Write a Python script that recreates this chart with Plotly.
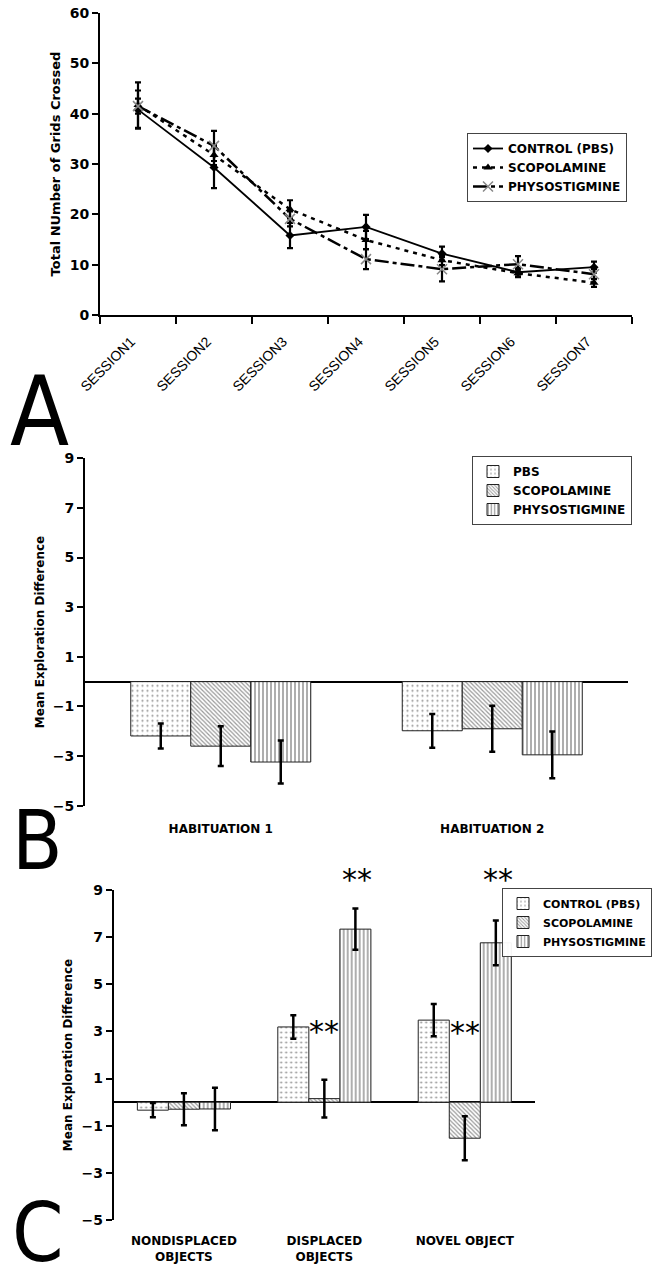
import plotly.graph_objects as go

OFF = 0
W, H = 658, 1273

# ---------------- Data ----------------
sessions = ["SESSION1", "SESSION2", "SESSION3", "SESSION4", "SESSION5", "SESSION6", "SESSION7"]
control_a = [40.8, 29.3, 15.8, 17.5, 12.2, 8.5, 9.5]
control_a_err = [3.8, 4.1, 2.5, 2.4, 1.4, 0.8, 1.1]
scop_a = [41.7, 31.8, 21.0, 14.9, 10.9, 8.3, 6.4]
scop_a_err = [4.5, 2.0, 1.8, 1.8, 1.0, 0.8, 0.8]
phys_a = [41.5, 33.6, 19.1, 11.1, 9.1, 10.1, 8.1]
phys_a_err = [1.5, 3.0, 1.5, 2.0, 2.4, 1.6, 1.0]

hab_cats = ["HABITUATION 1", "HABITUATION 2"]
pbs_b = [-2.19, -1.98]
pbs_b_err = [0.5, 0.68]
scop_b = [-2.6, -1.9]
scop_b_err = [0.8, 0.93]
phys_b = [-3.24, -2.95]
phys_b_err = [0.87, 0.94]

obj_cats = ["NONDISPLACED<br>OBJECTS", "DISPLACED<br>OBJECTS", "NOVEL OBJECT"]
pbs_c = [-0.34, 3.19, 3.48]
pbs_c_err = [0.3, 0.5, 0.68]
scop_c = [-0.3, 0.15, -1.53]
scop_c_err = [0.68, 0.8, 0.93]
phys_c = [-0.29, 7.34, 6.76]
phys_c_err = [0.9, 0.87, 0.95]

# significance marks
sig_cats = ["DISPLACED<br>OBJECTS", "DISPLACED<br>OBJECTS", "NOVEL OBJECT", "NOVEL OBJECT"]
sig_offsets = [0, 1, 0, 1]
sig_y = [3.05, 9.0, 3.0, 9.0]
sig_shift = [-1, 10, -1, 10]

# ---------------- Styling ----------------
FONT = "DejaVu Sans"
bold = dict(family=FONT, size=12, color="black", weight="bold")
ytitle_a = dict(family=FONT, size=13, color="black", weight="bold")
tickbold = dict(family=FONT, size=14, color="black", weight="bold")


def px_x(p):
    return (p - OFF) / W


def px_y(p):
    return 1 - (p - OFF) / H


fig = go.Figure()

# ---------------- Panel A ----------------
err_style = dict(type="data", thickness=2.2, width=3, color="black")
fig.add_trace(go.Scatter(
    x=sessions, y=control_a, name="CONTROL (PBS)", mode="lines+markers",
    line=dict(color="black", width=1.8, dash="solid"),
    marker=dict(symbol="diamond", size=7, color="black"),
    error_y=dict(array=control_a_err, **err_style),
    xaxis="x", yaxis="y", legend="legend"))
fig.add_trace(go.Scatter(
    x=sessions, y=scop_a, name="SCOPOLAMINE", mode="lines+markers",
    line=dict(color="black", width=2.5, dash="4px,5px"),
    marker=dict(symbol="triangle-up", size=8, color="black"),
    error_y=dict(array=scop_a_err, **err_style),
    xaxis="x", yaxis="y", legend="legend"))
fig.add_trace(go.Scatter(
    x=sessions, y=phys_a, name="PHYSOSTIGMINE", mode="lines+markers",
    line=dict(color="black", width=2.5, dash="14px,4px,4px,4px"),
    marker=dict(symbol="x-thin-open", size=10, color="#888888", line=dict(width=1.5, color="#888888")),
    error_y=dict(array=phys_a_err, **err_style),
    xaxis="x", yaxis="y", legend="legend"))


# ---------------- Bars helper ----------------
def add_bars(cats, vals, errs, name, shape, size, sol, xa, ya, leg):
    fig.add_trace(go.Bar(
        x=cats, y=vals, name=name,
        marker=dict(color="white", line=dict(color="#222222", width=1),
                    pattern=dict(shape=shape, size=size, solidity=sol, fgcolor="#333333", bgcolor="white")),
        error_y=dict(type="data", array=errs, thickness=2.5, width=3, color="black"),
        xaxis=xa, yaxis=ya, legend=leg))


add_bars(hab_cats, pbs_b, pbs_b_err, "PBS", ".", 5, 0.15, "x2", "y2", "legend2")
add_bars(hab_cats, scop_b, scop_b_err, "SCOPOLAMINE", "\\", 3, 0.4, "x2", "y2", "legend2")
add_bars(hab_cats, phys_b, phys_b_err, "PHYSOSTIGMINE", "|", 4, 0.4, "x2", "y2", "legend2")

add_bars(obj_cats, pbs_c, pbs_c_err, "CONTROL (PBS)", ".", 5, 0.15, "x3", "y3", "legend3")
add_bars(obj_cats, scop_c, scop_c_err, "SCOPOLAMINE", "\\", 3, 0.4, "x3", "y3", "legend3")
add_bars(obj_cats, phys_c, phys_c_err, "PHYSOSTIGMINE", "|", 4, 0.4, "x3", "y3", "legend3")

# ---------------- Axes ----------------
common_y = dict(showline=True, linecolor="black", linewidth=2, ticks="outside", ticklen=6,
                tickwidth=2, tickcolor="black", showgrid=False, tickfont=tickbold,
                automargin=False, ticklabeloverflow="allow")

fig.update_layout(
    width=W, height=H, margin=dict(l=0, r=0, t=0, b=0),
    paper_bgcolor="white", plot_bgcolor="white",
    barmode="group", bargap=0.337, bargroupgap=0,
    xaxis=dict(domain=[px_x(100), px_x(632)], anchor="y", type="category",
               range=[-0.5, 6.5], showline=True, linecolor="black", linewidth=2,
               ticks="outside", tickson="boundaries", ticklen=7, tickwidth=2, tickcolor="black",
               tickangle=-45, tickfont=dict(family="Liberation Sans", size=14, color="black"),
               ticklabelstandoff=11, ticklabelshift=-7,
               showgrid=False, automargin=False),
    yaxis=dict(domain=[px_y(315), px_y(13)], anchor="x", range=[0, 60], dtick=10,
               zeroline=False,
               title=dict(text="Total NUmber of Grids Crossed", font=ytitle_a, standoff=6),
               **common_y),
    xaxis2=dict(domain=[px_x(85), px_x(628)], anchor="y2", type="category",
                showline=False, ticks="", showgrid=False, tickfont=bold,
                ticklabelstandoff=14, automargin=False),
    yaxis2=dict(domain=[px_y(805.7), px_y(458.3)], anchor="x2", range=[-5, 9], tick0=1, dtick=2,
                zeroline=True, zerolinecolor="black", zerolinewidth=2,
                title=dict(text="Mean Exploration Difference", font=bold, standoff=6),
                **common_y),
    xaxis3=dict(domain=[px_x(113.7), px_x(535)], anchor="y3", type="category",
                showline=False, ticks="", showgrid=False, tickfont=bold,
                ticklabelstandoff=12, automargin=False),
    yaxis3=dict(domain=[px_y(1220), px_y(890)], anchor="x3", range=[-5, 9], tick0=1, dtick=2,
                zeroline=True, zerolinecolor="black", zerolinewidth=2,
                title=dict(text="Mean Exploration Difference", font=bold, standoff=6),
                **common_y),
    legend=dict(x=px_x(467), y=px_y(133), xanchor="left", yanchor="top",
                bordercolor="#444444", borderwidth=1, bgcolor="white", font=bold,
                itemwidth=30, tracegroupgap=0),
    legend2=dict(x=px_x(472), y=px_y(456), xanchor="left", yanchor="top",
                 bordercolor="#444444", borderwidth=1, bgcolor="white", font=bold,
                 itemwidth=30),
    legend3=dict(x=px_x(502), y=px_y(888), xanchor="left", yanchor="top",
                 bordercolor="#444444", borderwidth=1, bgcolor="rgba(255,255,255,0.95)",
                 font=dict(family=FONT, size=11, color="black", weight="bold"),
                 itemwidth=30),
    showlegend=True,
)

# ---------------- Annotations ----------------
ann = []
for letter, xp, yp, sz in [("A", 8, 470, 96), ("B", 10, 890, 82), ("C", 10, 1282, 82)]:
    ann.append(dict(text=letter, xref="paper", yref="paper", x=px_x(xp), y=px_y(yp),
                    xanchor="left", yanchor="bottom", showarrow=False,
                    font=dict(family="Liberation Sans Narrow, DejaVu Sans Condensed, Liberation Sans",
                              size=sz, color="black")))
for c, o, yv, ys in zip(sig_cats, sig_offsets, sig_y, sig_shift):
    ann.append(dict(text="**", xref="x3", yref="y3", x=c, y=yv, xshift=33 * o,
                    showarrow=False, yshift=ys,
                    font=dict(family=FONT, size=30, color="black")))
fig.update_layout(annotations=ann)

fig.write_html("out.html", config={"displayModeBar": False},
               post_script="document.body.style.margin='0';")
